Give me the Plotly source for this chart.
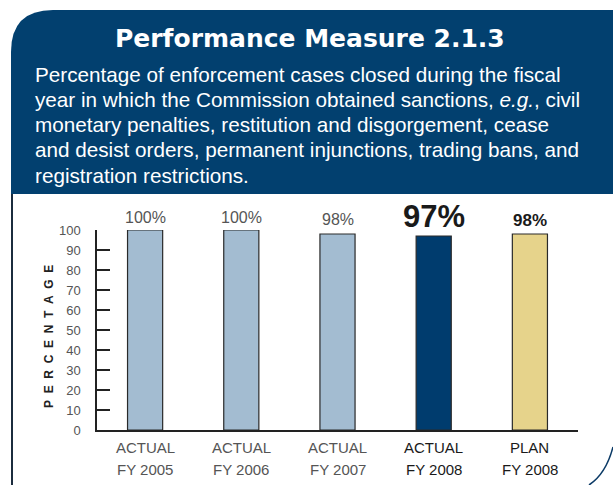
import plotly.graph_objects as go

# ---- data ----
categories = ["ACTUAL FY 2005", "ACTUAL FY 2006", "ACTUAL FY 2007", "ACTUAL FY 2008", "PLAN FY 2008"]
label_top = ["ACTUAL", "ACTUAL", "ACTUAL", "ACTUAL", "PLAN"]
label_bottom = ["FY 2005", "FY 2006", "FY 2007", "FY 2008", "FY 2008"]
values = [100, 100, 98, 97, 98]
value_labels = ["100%", "100%", "98%", "97%", "98%"]
y_ticks = [0, 10, 20, 30, 40, 50, 60, 70, 80, 90, 100]

title_text = "Performance Measure 2.1.3"
subtitle_lines = [
    "Percentage of enforcement cases closed during the fiscal",
    "year in which the Commission obtained sanctions, <i>e.g.</i>, civil",
    "monetary penalties, restitution and disgorgement, cease",
    "and desist orders, permanent injunctions, trading bans, and",
    "registration restrictions.",
]

# ---- styles ----
W, H = 613, 485
L, R, T, B = 97, 578, 230, 430
bar_colors = ["#a3bcd1", "#a3bcd1", "#a3bcd1", "#003c6e", "#e6d38b"]
vl_font = [dict(size=16, color="#555555"), dict(size=16, color="#555555"),
           dict(size=16, color="#555555"),
           dict(size=31, color="#1a1a1a", weight="bold"),
           dict(size=17, color="#1a1a1a", weight="bold")]
vl_shift = [2, 2, 4, 0, 2]
xl_color = ["#555555", "#555555", "#555555", "#1a1a1a", "#1a1a1a"]
HEADER = "#02406f"
FONT = "Liberation Sans, Arial, sans-serif"


def px(x):
    return (x - L) / (R - L)


def py(y):
    return (B - y) / (B - T)


fig = go.Figure()
fig.add_trace(go.Bar(
    x=categories, y=values, width=0.365,
    marker=dict(color=bar_colors, line=dict(color="#2a2a2a", width=1.2)),
    hoverinfo="skip",
))

ann = []
for c, v, t, f, s in zip(categories, values, value_labels, vl_font, vl_shift):
    ann.append(dict(x=c, y=v, text=t, showarrow=False, yanchor="bottom",
                    yshift=s, font=dict(family=FONT, **f)))
for c, a, b, col in zip(categories, label_top, label_bottom, xl_color):
    ann.append(dict(x=c, y=py(447), yref="paper", text=a, showarrow=False,
                    yanchor="middle", font=dict(family=FONT, size=15, color=col)))
    ann.append(dict(x=c, y=py(469), yref="paper", text=b, showarrow=False,
                    yanchor="middle", font=dict(family=FONT, size=15, color=col)))

# header
ann.append(dict(x=px(310), y=py(38), xref="paper", yref="paper", text=title_text,
                showarrow=False, xanchor="center", yanchor="middle",
                font=dict(family="DejaVu Sans", size=25, color="white", weight="bold")))
for i, line in enumerate(subtitle_lines):
    ann.append(dict(x=px(33), y=py(74 + 25.3 * i), xref="paper", yref="paper", text=line,
                    showarrow=False, xanchor="left", yanchor="middle",
                    font=dict(family=FONT, size=20.7, color="white")))

# y title
nb = "\u00a0\u00a0"
ann.append(dict(x=px(49), y=py(337), xref="paper", yref="paper",
                text=nb.join("PERCENTAGE"), textangle=-90, showarrow=False,
                xanchor="center", yanchor="middle",
                font=dict(family=FONT, size=12, color="#222222", weight="bold")))

shapes = [
    dict(type="path", xref="paper", yref="paper", layer="below",
         path=f"M {px(11)},{py(194)} L {px(11)},{py(52)} Q {px(11)},{py(10)} {px(53)},{py(10)} "
              f"L {px(613)},{py(10)} L {px(613)},{py(194)} Z",
         fillcolor=HEADER, line=dict(width=0)),
    dict(type="line", xref="paper", yref="paper",
         x0=px(12), x1=px(12), y0=py(194), y1=py(485),
         line=dict(color="#1b2c3e", width=2)),
    dict(type="path", xref="paper", yref="paper",
         path=f"M {px(613)},{py(447)} Q {px(606)},{py(474)} {px(589)},{py(485)}",
         line=dict(color="#0b3a66", width=1.5)),
]

fig.update_layout(
    width=W, height=H,
    margin=dict(l=L, r=W - R, t=T, b=H - B, pad=0),
    paper_bgcolor="white", plot_bgcolor="white",
    showlegend=False,
    annotations=ann, shapes=shapes,
    xaxis=dict(range=[-0.5, 4.5], showticklabels=False, showgrid=False,
               showline=True, linecolor="#222222", linewidth=1.5, ticks="",
               zeroline=False, fixedrange=True),
    yaxis=dict(range=[0, 100], tickvals=y_ticks, showgrid=False,
               showline=True, linecolor="#222222", linewidth=1.5,
               ticks="inside", ticklen=13, tickwidth=1.5, tickcolor="#222222",
               ticklabelstandoff=12,
               tickfont=dict(family=FONT, size=13, color="#555555"),
               zeroline=False, fixedrange=True),
)

fig.write_html("out.html", config={"displayModeBar": False},
               post_script="document.body.style.margin='0';document.body.style.overflow='hidden';")
